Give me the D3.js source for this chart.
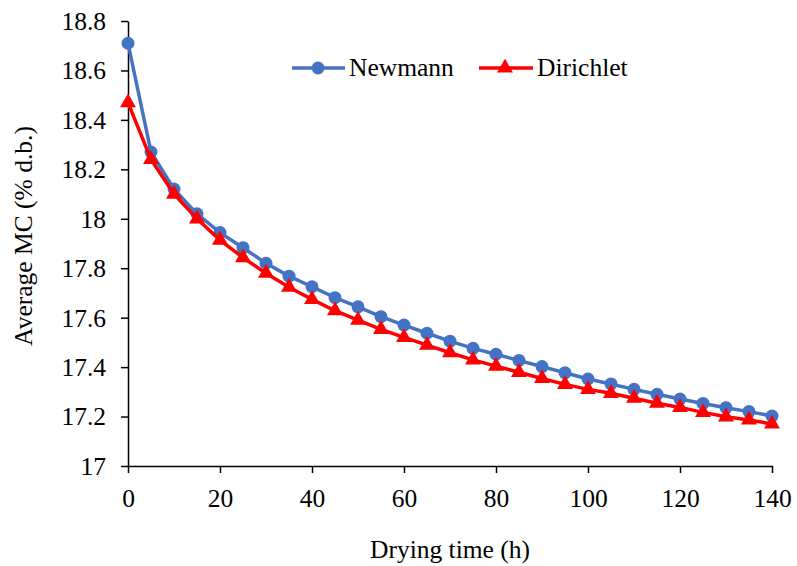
<!DOCTYPE html>
<html><head><meta charset="utf-8">
<script src="https://cdn.jsdelivr.net/npm/d3@7"></script>
<style>body{margin:0;background:#fff}svg{display:block}text{font-family:"Liberation Serif","Times New Roman",serif;fill:#000}</style>
</head><body><svg id="c" width="797" height="566"></svg>
<script>
const times = [0,5,10,15,20,25,30,35,40,45,50,55,60,65,70,75,80,85,90,95,100,105,110,115,120,125,130,135,140];
const newmann = [18.71,18.27,18.12,18.02,17.944,17.883,17.82,17.768,17.725,17.681,17.644,17.604,17.570,17.537,17.505,17.476,17.452,17.427,17.402,17.377,17.352,17.332,17.310,17.290,17.271,17.253,17.236,17.220,17.202];
const dirichlet = [18.47,18.24,18.10,18.00,17.914,17.843,17.78,17.723,17.674,17.628,17.590,17.553,17.520,17.489,17.458,17.429,17.404,17.379,17.354,17.330,17.310,17.294,17.274,17.254,17.237,17.217,17.199,17.186,17.170];
const xTicks = [0,20,40,60,80,100,120,140];
const yTicks = [17,17.2,17.4,17.6,17.8,18,18.2,18.4,18.6,18.8];
const seriesNames = ["Newmann","Dirichlet"];
const colors = ["#4472C4","#FF0000"];

const FS = "25.5px";
const svg = d3.select("#c");
const x = d3.scaleLinear().domain([0,140]).range([128,772]);
const y = d3.scaleLinear().domain([17,18.8]).range([466,21]);

const fmt = d => (Math.round(d*10)/10).toString();
const gx = svg.append("g").attr("transform","translate(0,466)")
  .call(d3.axisBottom(x).tickValues(xTicks).tickSize(7).tickSizeOuter(0).tickPadding(16).tickFormat(d3.format("d")));
const gy = svg.append("g").attr("transform","translate(128,0)")
  .call(d3.axisLeft(y).tickValues(yTicks).tickSize(7).tickSizeOuter(0).tickPadding(15).tickFormat(fmt));
[gx,gy].forEach(g=>{
  g.selectAll("path").attr("stroke","#000").attr("stroke-width",1.5);
  g.selectAll("line").attr("stroke","#000").attr("stroke-width",1.5);
  g.selectAll("text").style("font-size",FS).style("font-family","'Liberation Serif',serif").attr("fill","#000");
});
gy.selectAll("text").attr("dy","0.33em");

svg.append("text").attr("x",450).attr("y",558).attr("text-anchor","middle").style("font-size",FS).text("Drying time (h)");
svg.append("text").attr("transform","translate(32,236) rotate(-90)").attr("text-anchor","middle").style("font-size",FS).text("Average MC (% d.b.)");

const line = d3.line().x((d,i)=>x(times[i])).y(d=>y(d));
const tri = d3.symbol().type(d3.symbolTriangle).size(110);

svg.append("path").datum(newmann).attr("d",line).attr("fill","none").attr("stroke",colors[0]).attr("stroke-width",3.5);
svg.append("g").selectAll("circle").data(newmann).join("circle")
  .attr("cx",(d,i)=>x(times[i])).attr("cy",d=>y(d)).attr("r",6.5).attr("fill",colors[0]);
svg.append("path").datum(dirichlet).attr("d",line).attr("fill","none").attr("stroke",colors[1]).attr("stroke-width",3.5);
svg.append("g").selectAll("path").data(dirichlet).join("path")
  .attr("d",tri).attr("transform",(d,i)=>`translate(${x(times[i])},${y(d)})`).attr("fill",colors[1]);

// legend
const lg = svg.append("g");
lg.append("line").attr("x1",292).attr("x2",345).attr("y1",68).attr("y2",68).attr("stroke",colors[0]).attr("stroke-width",3.5);
lg.append("circle").attr("cx",318).attr("cy",68).attr("r",6.5).attr("fill",colors[0]);
lg.append("text").attr("x",349).attr("y",75.5).style("font-size",FS).text(seriesNames[0]);
lg.append("line").attr("x1",479).attr("x2",533).attr("y1",68).attr("y2",68).attr("stroke",colors[1]).attr("stroke-width",3.5);
lg.append("path").attr("d",tri).attr("transform","translate(505,68)").attr("fill",colors[1]);
lg.append("text").attr("x",537).attr("y",75.5).style("font-size",FS).text(seriesNames[1]);
</script></body></html>
